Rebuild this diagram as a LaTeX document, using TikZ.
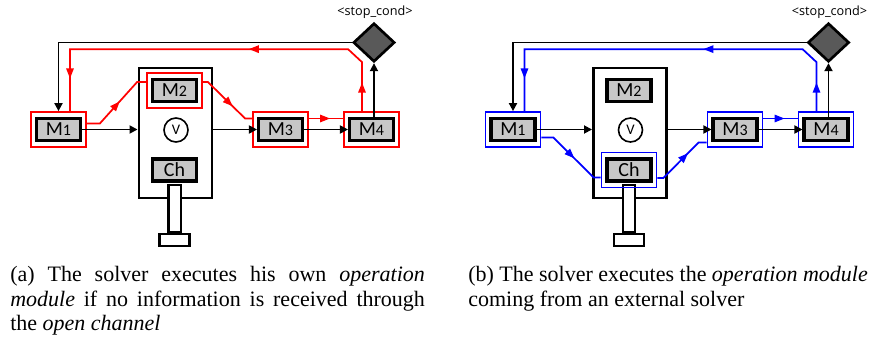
\documentclass[tikz,border=0pt]{standalone}
\usepackage{fontspec}
\setmainfont{Liberation Serif}
\newfontfamily\diagfont{Carlito}
\newfontfamily\condfont{Open Sans}
\usepackage{tikz}
\usetikzlibrary{arrows.meta,shapes.geometric,positioning,calc,decorations.markings}

\newcommand{\modlabel}[2]{#1{\fontsize{12}{12}\selectfont #2}}

\begin{document}
\begin{tikzpicture}[x=0.75pt,y=-0.75pt,
    module/.style={draw,line width=2.5pt,fill=black!22,minimum width=32.8pt,minimum height=16.3pt,inner sep=0pt,font=\diagfont\fontsize{15}{15}\selectfont},
    solver/.style={draw,line width=2.2pt,minimum width=54.75pt,minimum height=97.5pt,inner sep=0pt},
    vcircle/.style={draw,circle,line width=1.2pt,minimum size=18pt,inner sep=0pt,font=\diagfont\fontsize{11}{11}\selectfont},
    stembox/.style={draw,line width=1.7pt,fill=white,minimum width=9.2pt,minimum height=35pt,inner sep=0pt},
    barbox/.style={draw,line width=1.7pt,fill=white,minimum width=22.5pt,minimum height=9pt,inner sep=0pt},
    cond/.style={draw,diamond,line width=2pt,fill=black!65,minimum width=31pt,minimum height=29pt,inner sep=0pt},
    sel/.style={draw=#1,line width=1.3pt,minimum width=41.25pt,minimum height=26.25pt,inner sep=0pt},
    flow/.style={line width=1.3pt,-{Triangle[length=6pt,width=6pt]}},
    hl/.style={draw=#1,line width=1.3pt},
    midarr/.style={postaction={decorate,decoration={markings,mark=at position #1 with {\arrow{Triangle[length=7.5pt,width=5.5pt]}}}}},
    caption/.style={inner sep=0pt,font=\fontsize{16.5}{18.4}\selectfont}]
  \useasboundingbox (0,0) rectangle (872,339);

  \foreach \p/\dx/\hl in {a/0/red,b/454.5/blue}{
    \begin{scope}[xshift=\dx*0.75pt]
      % solver with its channel
      \node[solver] (\p box) at (175.5,133) {};
      \node[module] (\p m2) at (174.5,90.5) {\modlabel{M}{2}};
      \node[vcircle] (\p v) at (176,130) {V};
      \node[module] (\p ch) at (174.5,170) {Ch};
      \node[stembox,anchor=north] (\p stem) at ([yshift=-1pt]\p ch.south) {};
      \node[barbox,anchor=north] (\p bar) at (\p stem.south) {};
      % other modules
      \node[module] (\p m1) at (58.5,129.5) {\modlabel{M}{1}};
      \node[module] (\p m3) at (280.5,129.5) {\modlabel{M}{3}};
      \node[module] (\p m4) at (371.5,129.5) {\modlabel{M}{4}};
      \node[cond] (\p dia) at (374,42.5) {};
      \node[font=\condfont\fontsize{9.5}{9.5}\selectfont] (\p cond) at (375,12.5) {\textless stop\_cond\textgreater};
      \node[sel=\hl] (\p m1f) at (\p m1) {};
      \node[sel=\hl] (\p m3f) at (\p m3) {};
      \node[sel=\hl] (\p m4f) at (\p m4) {};

      \draw[flow] (\p m1.east) -- (\p m1.east -| \p box.west);
      \draw[flow] (\p box.east |- \p m3.west) -- (\p m3.west);
      \draw[flow] (\p m3.east) -- (\p m4.west);
      \draw[flow] (\p dia.south |- \p m4.north) -- (\p dia.south);
      \draw[flow] (\p dia.west) -| (\p m1f.north);

      \draw[hl=\hl,midarr=.62] ($(\p m3f.east)+(0,-11)$) -- ($(\p m4f.west)+(0,-11)$);
      \coordinate (\p r1) at ($(\p m4f.north)+(-9.5,0)$);
      \coordinate (\p r2) at ($(\p r1)+(0,-49)$);
      \coordinate (\p r3) at ($(\p r2)+(-14,-13)$);
      \coordinate (\p r5) at ($(\p m1f.north)+(11.5,0)$);
      \coordinate (\p r4) at (\p r5 |- \p r3);
      \draw[hl=\hl,postaction={decorate,decoration={markings,
          mark=at position .07 with {\arrow{Triangle[length=7.5pt,width=5.5pt]}},
          mark=at position .41 with {\arrow{Triangle[length=7.5pt,width=5.5pt]}},
          mark=at position .92 with {\arrow{Triangle[length=7.5pt,width=5.5pt]}}}}]
        (\p r1) -- (\p r2) -- (\p r3) -- (\p r4) -- (\p r5);
    \end{scope}
  }

  % (a) own operation module
  \node[sel=red] (am2f) at (am2) {};
  \draw[hl=red,midarr=.55] ($(am1f.east)+(0,-6)$) -- ++(13,0) -- ($(am2f.west)+(-9,-8.5)$) -- ($(am2f.west)+(0,-8.5)$);
  \draw[hl=red,midarr=.62] ($(am2f.east)+(0,-8.5)$) -- ++(5,0) -- ($(am3f.west)+(-7,-11)$) -- ($(am3f.west)+(0,-11)$);

  % (b) module from the channel
  \node[sel=blue] (bchf) at (bch) {};
  \draw[hl=blue,midarr=.55] ($(bm1f.east)+(0,8)$) -- ++(12,0) -- ($(bchf.west)+(-7,7.5)$) -- ($(bchf.west)+(0,7.5)$);
  \draw[hl=blue,midarr=.64] ($(bchf.east)+(0,8)$) -- ++(6,0) -- ($(bm3f.west)+(-8,13)$) -- ($(bm3f.west)+(0,13)$);

  \node[caption,anchor=north west,text width=311pt,align=justify] (capa) at (10,266)
    {(a) The solver executes his own \textit{operation}\linebreak \textit{module} if no information is received through\linebreak the \textit{open channel}};
  \node[caption,anchor=north west,align=left] (capb) at (468,266)
    {(b) The solver executes the \textit{operation module}\\ coming from an external solver};
\end{tikzpicture}
\end{document}
